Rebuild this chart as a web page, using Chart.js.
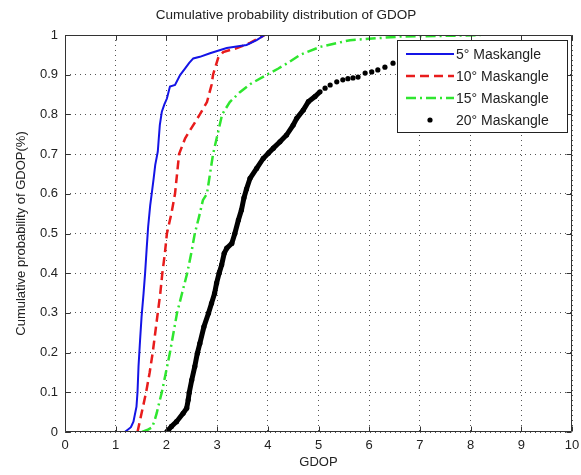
<!DOCTYPE html>
<html><head><meta charset="utf-8">
<script src="https://cdn.jsdelivr.net/npm/chart.js@4.4.1/dist/chart.umd.min.js"></script>
<style>html,body{margin:0;padding:0;background:#fff}#wrap{width:581px;height:475px}</style>
</head><body><div id="wrap"><canvas id="c" width="581" height="475"></canvas></div>
<script>
// ---- data ----
const titleText = 'Cumulative probability distribution of GDOP';
const xAxisTitle = 'GDOP';
const yAxisTitle = 'Cumulative probability of GDOP(%)';
const xTickLabels = ['0','1','2','3','4','5','6','7','8','9','10'];
const yTickLabels = ['0','0.1','0.2','0.3','0.4','0.5','0.6','0.7','0.8','0.9','1'];
const seriesNames = ['5\u00b0 Maskangle','10\u00b0 Maskangle','15\u00b0 Maskangle','20\u00b0 Maskangle'];

const mask5X = [1.18,1.30,1.35,1.41,1.43,1.45,1.48,1.51,1.55,1.58,1.61,1.64,1.68,1.71,1.75,1.78,1.83,1.85,1.87,1.91,1.96,2.01,2.07,2.17,2.27,2.37,2.45,2.53,2.66,2.86,3.19,3.58,3.78,3.94];
const mask5Y = [0,0.012,0.026,0.064,0.10,0.165,0.23,0.29,0.35,0.40,0.46,0.517,0.57,0.60,0.64,0.673,0.706,0.74,0.773,0.807,0.825,0.840,0.870,0.874,0.899,0.916,0.93,0.941,0.945,0.954,0.967,0.975,0.987,1.0];

const mask10X = [1.43,1.51,1.60,1.67,1.73,1.78,1.83,1.88,1.92,1.97,2.01,2.10,2.17,2.21,2.25,2.37,2.53,2.66,2.80,2.89,2.92,3.02,3.12,3.39,3.65,3.94];
const mask10Y = [0,0.047,0.10,0.15,0.20,0.25,0.30,0.35,0.40,0.45,0.50,0.551,0.60,0.65,0.70,0.74,0.773,0.80,0.831,0.874,0.90,0.942,0.957,0.967,0.98,1.0];

const mask15X = [1.52,1.62,1.72,1.77,1.81,1.86,1.91,1.99,2.07,2.14,2.21,2.31,2.41,2.49,2.56,2.64,2.72,2.80,2.86,2.92,3.01,3.10,3.25,3.45,3.65,3.98,4.20,4.40,4.64,5.03,5.62,6.61,7.60,8.20];
const mask15Y = [0,0.005,0.012,0.03,0.048,0.075,0.10,0.15,0.20,0.25,0.30,0.35,0.40,0.45,0.50,0.54,0.584,0.60,0.65,0.70,0.75,0.80,0.831,0.856,0.876,0.90,0.915,0.93,0.95,0.970,0.987,0.996,0.998,1.0];

const mask20X = [2.005,2.10,2.20,2.33,2.40,2.43,2.45,2.50,2.56,2.61,2.66,2.74,2.83,2.89,2.95,2.99,3.04,3.09,3.14,3.19,3.29,3.35,3.42,3.48,3.53,3.58,3.65,3.78,3.91,4.01,4.11,4.24,4.37,4.50,4.57,4.70,4.80,4.93,5.03,5.13,5.23,5.36,5.48,5.58,5.68,5.78,5.92,6.05,6.17,6.31,6.47,6.60];
const mask20Y = [0,0.014,0.026,0.047,0.060,0.081,0.099,0.131,0.165,0.198,0.223,0.265,0.299,0.324,0.349,0.375,0.40,0.421,0.450,0.463,0.475,0.50,0.534,0.559,0.59,0.612,0.639,0.664,0.689,0.702,0.715,0.731,0.748,0.773,0.790,0.811,0.832,0.845,0.857,0.866,0.874,0.882,0.887,0.890,0.892,0.894,0.904,0.907,0.912,0.919,0.929,0.932];

// ---- build chart ----
const FONT = "'Liberation Sans', Arial, Helvetica, sans-serif";
const TXT = '#222';
const pts = (xs, ys) => xs.map((x, i) => ({x, y: ys[i]}));
const denseLimit = 5.05; // black dots merge into a thick trace below this GDOP

const datasets = [
  {label: seriesNames[0], data: pts(mask5X, mask5Y), showLine: true, borderColor: '#1414e6', borderWidth: 2, pointRadius: 0, borderDash: [], legendKind: 'line'},
  {label: seriesNames[1], data: pts(mask10X, mask10Y), showLine: true, borderColor: '#e81c1c', borderWidth: 2.5, pointRadius: 0, borderDash: [9, 5], legendKind: 'line'},
  {label: seriesNames[2], data: pts(mask15X, mask15Y), showLine: true, borderColor: '#2fe62f', borderWidth: 2.5, pointRadius: 0, borderDash: [10, 4, 2, 4], legendKind: 'line'},
  {label: seriesNames[3], data: pts(mask20X, mask20Y), showLine: true, borderColor: '#000', borderWidth: 5, pointRadius: 2.6, pointBackgroundColor: '#000', pointBorderWidth: 0, legendKind: 'dot',
   segment: {borderColor: c => (c.p1.parsed.x > denseLimit ? 'rgba(0,0,0,0)' : '#000')}}
];

const framePlugin = {
  id: 'frame',
  afterDatasetsDraw(chart) {
    const {ctx, chartArea: a, scales} = chart;
    ctx.save();
    ctx.strokeStyle = '#333';
    ctx.lineWidth = 1;
    ctx.setLineDash([]);
    const L = Math.round(a.left) + 0.5, R = Math.round(a.right) - 0.5, T = Math.round(a.top) + 0.5, B = Math.round(a.bottom) - 0.5;
    ctx.beginPath();
    ctx.rect(L, T, R - L, B - T);
    scales.x.ticks.forEach(t => {
      const px = Math.round(scales.x.getPixelForValue(t.value)) + 0.5;
      ctx.moveTo(px, B); ctx.lineTo(px, B - 5);
      ctx.moveTo(px, T); ctx.lineTo(px, T + 5);
    });
    scales.y.ticks.forEach(t => {
      const py = Math.round(scales.y.getPixelForValue(t.value)) + 0.5;
      ctx.moveTo(L, py); ctx.lineTo(L + 5, py);
      ctx.moveTo(R, py); ctx.lineTo(R - 5, py);
    });
    ctx.stroke();
    ctx.restore();
  }
};

const legendPlugin = {
  id: 'mlegend',
  afterDraw(chart) {
    const {ctx, chartArea: a} = chart;
    const w = 170, h = 92;
    const x0 = Math.round(a.right) - 5 - w, y0 = Math.round(a.top) + 5;
    ctx.save();
    ctx.fillStyle = '#fff';
    ctx.fillRect(x0, y0, w, h);
    ctx.strokeStyle = '#222';
    ctx.lineWidth = 1;
    ctx.strokeRect(x0 + 0.5, y0 + 0.5, w, h);
    ctx.font = '14px ' + FONT;
    ctx.textBaseline = 'middle';
    ctx.textAlign = 'left';
    chart.data.datasets.forEach((ds, i) => {
      const cy = y0 + 14 + i * 22;
      const sx0 = x0 + 9, sx1 = x0 + 57;
      if (ds.legendKind === 'line') {
        ctx.strokeStyle = ds.borderColor;
        ctx.lineWidth = ds.borderWidth;
        ctx.setLineDash(ds.borderDash || []);
        ctx.beginPath();
        ctx.moveTo(sx0, cy); ctx.lineTo(sx1, cy);
        ctx.stroke();
        ctx.setLineDash([]);
      } else {
        ctx.fillStyle = ds.pointBackgroundColor;
        ctx.beginPath();
        ctx.arc((sx0 + sx1) / 2, cy, ds.pointRadius, 0, Math.PI * 2);
        ctx.fill();
      }
      ctx.fillStyle = TXT;
      ctx.fillText(ds.label, sx1 + 2, cy + 1);
    });
    ctx.restore();
  }
};

new Chart(document.getElementById('c'), {
  type: 'scatter',
  data: {datasets},
  plugins: [framePlugin, legendPlugin],
  options: {
    responsive: false,
    animation: false,
    devicePixelRatio: 1,
    layout: {padding: {left: 0, right: 9, top: 0, bottom: 0}},
    plugins: {
      legend: {display: false},
      tooltip: {enabled: false},
      title: {display: true, text: titleText, color: TXT, font: {family: FONT, size: 13.5, weight: 'normal', lineHeight: 1.2}, padding: {top: 7, bottom: 11.8}}
    },
    scales: {
      x: {
        type: 'linear', min: 0, max: 10,
        afterFit: s => { s.height = 43; s.paddingLeft = 0; s.paddingRight = 0; },
        ticks: {stepSize: 1, color: TXT, font: {family: FONT, size: 13}, padding: 6, maxRotation: 0,
                callback: v => xTickLabels[Math.round(v)]},
        grid: {color: '#555', lineWidth: 1, drawTicks: false},
        border: {display: false, dash: [1, 4]},
        title: {display: true, text: xAxisTitle, color: TXT, font: {family: FONT, size: 13, lineHeight: 1.2}, padding: {top: 0, bottom: 5}}
      },
      y: {
        type: 'linear', min: 0, max: 1,
        afterFit: s => { s.width = 65; s.paddingTop = 0; s.paddingBottom = 0; },
        ticks: {stepSize: 0.1, color: TXT, font: {family: FONT, size: 13}, padding: 7,
                callback: v => yTickLabels[Math.round(v * 10)]},
        grid: {color: '#555', lineWidth: 1, drawTicks: false},
        border: {display: false, dash: [1, 4]},
        title: {display: true, text: yAxisTitle, color: TXT, font: {family: FONT, size: 13, lineHeight: 1.2}, padding: {top: 14, bottom: 0}}
      }
    }
  }
});
</script>
</body></html>
